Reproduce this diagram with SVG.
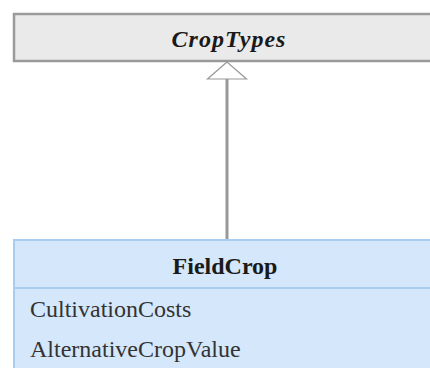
<svg xmlns="http://www.w3.org/2000/svg" width="430" height="368" viewBox="0 0 430 368">
<defs>
<style>
.t{font-family:"Liberation Serif","Times New Roman",serif;fill:#1a1a1a}
.title{font-size:24px;font-weight:bold;text-anchor:middle}
.attr{font-size:24px;fill:#333}
</style>
</defs>
<rect width="430" height="368" fill="#ffffff"/>
<g id="CropTypes">
<rect x="14" y="14" width="428" height="47" fill="#eaeaea" stroke="#9a9a9a" stroke-width="2.5"/>
<text class="t title" x="229" y="47" font-style="italic" letter-spacing="1">CropTypes</text>
</g>
<g id="connectors">
<line x1="227" y1="79" x2="227" y2="240" stroke="#999999" stroke-width="3"/>
<polygon points="227,62 207.5,79 246.5,79" fill="#ffffff" stroke="#999999" stroke-width="1.2"/>
</g>
<g id="FieldCrop">
<rect x="14" y="240" width="428" height="140" fill="#d5e7fb" stroke="#a9cdef" stroke-width="2"/>
<line x1="14" y1="288" x2="442" y2="288" stroke="#a9cdef" stroke-width="2"/>
<text class="t title" x="225" y="274">FieldCrop</text>
<text class="t attr" x="30" y="317">CultivationCosts</text>
<text class="t attr" x="30" y="357">AlternativeCropValue</text>
</g>
</svg>
